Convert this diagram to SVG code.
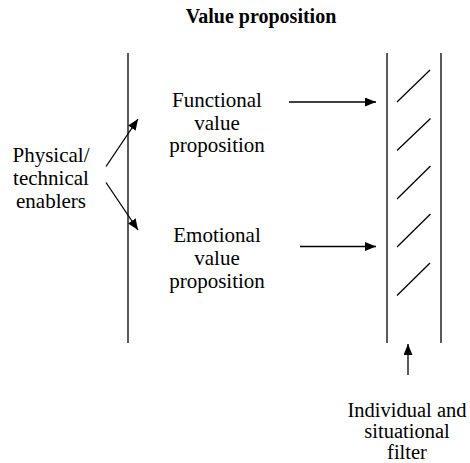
<svg xmlns="http://www.w3.org/2000/svg" width="470" height="463" viewBox="0 0 470 463">
<style>
text{font-family:"Liberation Serif","DejaVu Serif",serif;font-size:21px;fill:#000;text-anchor:middle}
.title{font-weight:bold;font-size:20px}
.small{font-size:20.5px}
.ln{stroke:#000;stroke-width:1.3;fill:none}
.ar{stroke:#000;stroke-width:1.3;fill:none;marker-end:url(#ah)}
</style>
<defs>
<marker id="ah" markerWidth="12" markerHeight="10" refX="11" refY="4.5" orient="auto" markerUnits="userSpaceOnUse">
<path d="M0,0 L11,4.5 L0,9 Z" fill="#000"/>
</marker>
</defs>
<rect width="470" height="463" fill="#fff"/>
<text class="title" x="261" y="23">Value proposition</text>
<g id="boundary">
<line class="ln" x1="128" y1="53" x2="128" y2="343"/>
</g>
<g id="filter-box">
<line class="ln" x1="387" y1="53" x2="387" y2="343"/>
<line class="ln" x1="441" y1="53" x2="441" y2="343"/>
<line class="ln" x1="397" y1="102" x2="430" y2="70"/>
<line class="ln" x1="397" y1="150.5" x2="430.5" y2="118.5"/>
<line class="ln" x1="397" y1="199" x2="430.5" y2="166"/>
<line class="ln" x1="397" y1="247" x2="430.5" y2="214"/>
<line class="ln" x1="397" y1="295.5" x2="430" y2="263"/>
</g>
<g id="enablers">
<text x="51" y="162">Physical/</text>
<text x="51" y="185">technical</text>
<text x="51" y="208">enablers</text>
</g>
<g id="functional">
<text x="217" y="107">Functional</text>
<text x="217" y="130">value</text>
<text x="217" y="152">proposition</text>
</g>
<g id="emotional">
<text x="217" y="242">Emotional</text>
<text x="217" y="265">value</text>
<text x="217" y="288">proposition</text>
</g>
<g id="individual-filter">
<text class="small" x="407" y="417">Individual and</text>
<text class="small" x="407" y="438">situational</text>
<text class="small" x="407" y="459">filter</text>
</g>
<g id="connectors">
<line class="ar" x1="106" y1="166.5" x2="138" y2="119"/>
<line class="ar" x1="106" y1="182.5" x2="138" y2="230"/>
<line class="ar" x1="289" y1="102" x2="376" y2="102"/>
<line class="ar" x1="300" y1="246.5" x2="376" y2="246.5"/>
<line class="ar" x1="408" y1="375" x2="408" y2="344"/>
</g>
</svg>
